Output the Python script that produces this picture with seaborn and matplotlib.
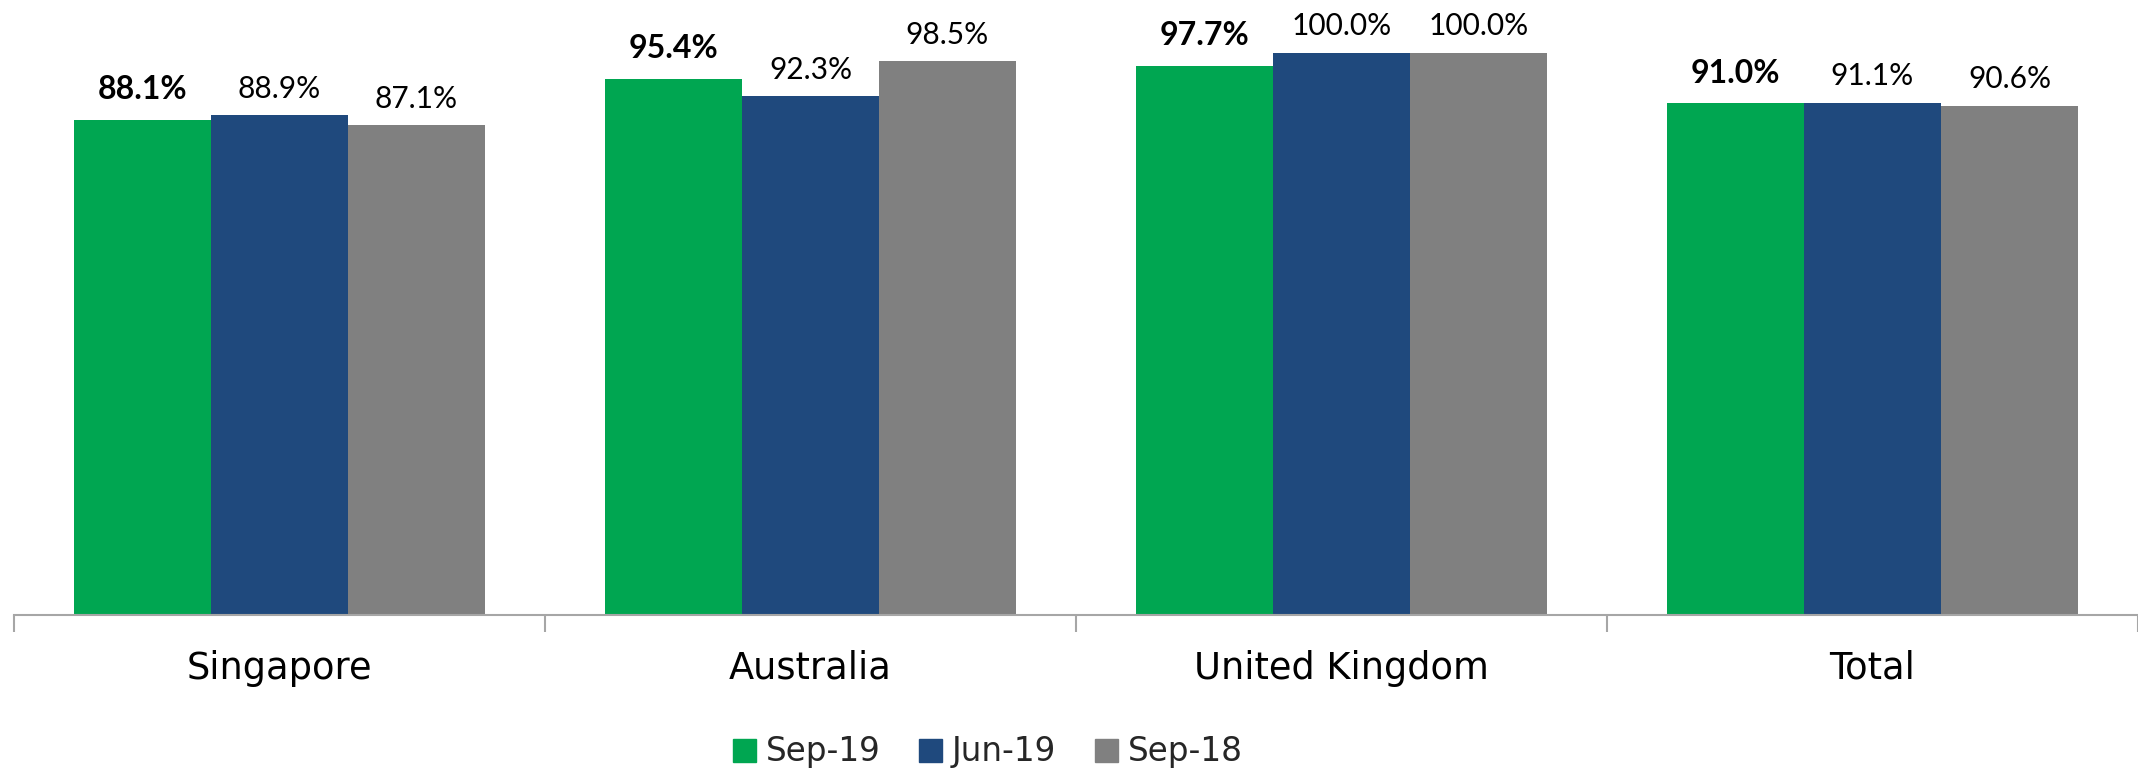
import matplotlib
matplotlib.use("Agg")
import matplotlib.pyplot as plt
import matplotlib.patches as mpatches
import seaborn as sns
import pandas as pd

regions = ["Singapore", "Australia", "United Kingdom", "Total"]
periods = ["Sep-19", "Jun-19", "Sep-18"]
sep19 = [88.1, 95.4, 97.7, 91.0]
jun19 = [88.9, 92.3, 100.0, 91.1]
sep18 = [87.1, 98.5, 100.0, 90.6]
colors = ["#00A651", "#1F497D", "#808080"]

rows = []
for p, vals in zip(periods, [sep19, jun19, sep18]):
    for r, v in zip(regions, vals):
        rows.append({"Region": r, "Period": p, "Value": v})
df = pd.DataFrame(rows)

sns.set_theme(style="white")
plt.rcParams["font.family"] = ["DejaVu Sans"]

W, H = 2138, 770
fig = plt.figure(figsize=(W / 100, H / 100), dpi=100)
ax = fig.add_axes([14 / W, 155 / H, 1 - 14 / W, 615 / H])

sns.barplot(data=df, x="Region", y="Value", hue="Period", order=regions,
            hue_order=periods, palette=colors, width=0.774, saturation=1,
            linewidth=0, ax=ax, legend=False, errorbar=None)

ax.set_xlim(-0.5, 3.5)
ax.set_ylim(0, 109.4)

for i, cont in enumerate(ax.containers):
    if i == 0:
        ax.bar_label(cont, fmt="{:.1f}%", padding=11, fontsize=23,
                     fontweight="bold", family=["Lato", "DejaVu Sans"], color="black")
    else:
        ax.bar_label(cont, fmt="{:.1f}%", padding=9, fontsize=21.5,
                     fontweight="normal", family=["Lato", "DejaVu Sans"],
                     color="black")

for s in ["left", "top", "right"]:
    ax.spines[s].set_visible(False)
ax.spines["bottom"].set_color("#A6A6A6")
ax.spines["bottom"].set_linewidth(1.5)

ax.set_yticks([])
ax.set_xticks(range(len(regions)))
ax.set_xticklabels(regions, fontsize=26.5, color="black")
ax.set_xticks([-0.5, 0.5, 1.5, 2.5, 3.5], minor=True)
ax.tick_params(axis="x", which="major", length=0, pad=25)
ax.tick_params(axis="x", which="minor", length=12, width=1.5, color="#A6A6A6",
               bottom=True)
ax.set_xlabel("")
ax.set_ylabel("")

handles = [mpatches.Patch(color=c, label=p) for c, p in zip(colors, periods)]
fig.legend(handles=handles, loc="center", bbox_to_anchor=(988 / W, 18 / H),
           ncol=3, frameon=False, fontsize=23.5, handlelength=0.7, handleheight=0.7,
           handletextpad=0.3, columnspacing=1.2, borderaxespad=0, borderpad=0)

fig.savefig("out.png", dpi=100)
